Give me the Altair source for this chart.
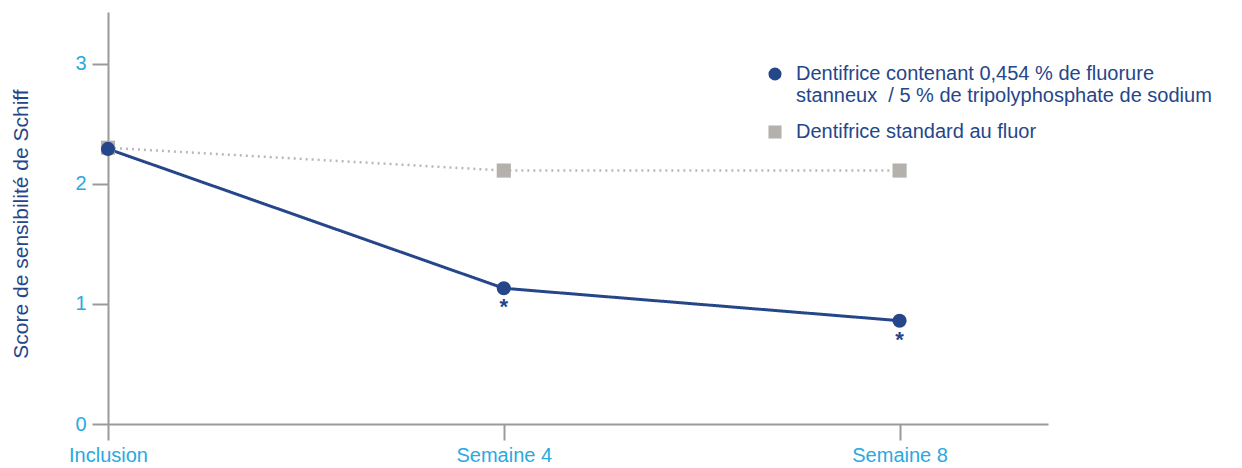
import altair as alt
import pandas as pd

# ---- data ----
timepoints = [0, 4, 8]
timepoint_labels = ["Inclusion", "Semaine 4", "Semaine 8"]
series_names = [
    "Dentifrice contenant 0,454 % de fluorure|stanneux \u00a0/ 5 % de tripolyphosphate de sodium",
    "Dentifrice standard au fluor",
]
series_keys = ["SnF2", "standard"]
values_sn = [2.29, 1.13, 0.86]
values_std = [2.30, 2.11, 2.11]
significant_sn = ["", "*", "*"]

BLUE = "#26468a"
GREY = "#b4b1ac"
DOTGREY = "#b8b8b8"
LIGHTBLUE = "#2aa9e0"
AXIS = "#9a9a9a"
FONT = "Liberation Sans"

rows = []
for t, lab, v, s in zip(timepoints, timepoint_labels, values_sn, significant_sn):
    rows.append({"semaine": t, "temps": lab, "serie": series_names[0], "cle": series_keys[0], "score": v, "sig": s})
for t, lab, v in zip(timepoints, timepoint_labels, values_std):
    rows.append({"semaine": t, "temps": lab, "serie": series_names[1], "cle": series_keys[1], "score": v, "sig": ""})
df = pd.DataFrame(rows)

label_expr = " : ".join(
    f"datum.value == {t} ? '{l}'" for t, l in zip(timepoints, timepoint_labels)
) + " : ''"

x = alt.X(
    "semaine:Q",
    scale=alt.Scale(domain=[0, 9.5], nice=False, zero=False),
    axis=alt.Axis(values=timepoints, labelExpr=label_expr, title=None,
                  grid=False, tickSize=16, tickColor=AXIS, tickWidth=2,
                  domainColor=AXIS, domainWidth=2, labelColor=LIGHTBLUE,
                  labelFontSize=20, labelFont=FONT, labelPadding=5,
                  labelFlush=False),
)
y = alt.Y(
    "score:Q",
    scale=alt.Scale(domain=[0, 3.43], nice=False),
    axis=alt.Axis(values=[0, 1, 2, 3], title="Score de sensibilité de Schiff",
                  grid=False, tickSize=16, tickColor=AXIS, tickWidth=2,
                  domainColor=AXIS, domainWidth=2, labelColor=LIGHTBLUE,
                  labelFontSize=20, labelFont=FONT, labelPadding=6,
                  titleColor=BLUE, titleFont=FONT, titleFontSize=21,
                  titleFontWeight="normal", titlePadding=43, titleY=211.5),
)

legend = alt.Legend(
    title=None, orient="none", legendX=657, legendY=52,
    labelExpr="split(datum.label, '|')",
    labelFont=FONT, labelFontSize=20, labelColor=BLUE, labelLimit=700,
    symbolSize=170, symbolOpacity=1, symbolStrokeWidth=0,
    rowPadding=16, labelOffset=11,
)

lines = alt.Chart(df).mark_line().encode(
    x=x, y=y,
    stroke=alt.Stroke("cle:N", scale=alt.Scale(domain=series_keys, range=[BLUE, DOTGREY]), legend=None),
    strokeDash=alt.StrokeDash("cle:N", scale=alt.Scale(domain=series_keys, range=[[1, 0], [2, 4]]), legend=None),
    strokeWidth=alt.StrokeWidth("cle:N", scale=alt.Scale(domain=series_keys, range=[3, 2.5]), legend=None),
)

points = alt.Chart(df).mark_point(filled=True, opacity=1, size=200).encode(
    x=x, y=y,
    color=alt.Color("serie:N", scale=alt.Scale(domain=series_names, range=[BLUE, GREY]), legend=legend),
    shape=alt.Shape("serie:N", scale=alt.Scale(domain=series_names, range=["circle", "square"]), legend=legend),
    order=alt.Order("serie:N", sort="descending"),
)

stars = alt.Chart(df).mark_text(dy=19, fontSize=22, font=FONT, fontWeight="bold", color=BLUE).encode(
    x=x, y=y, text="sig:N"
)

chart = alt.layer(lines, points, stars).properties(
    width=940, height=412,
    autosize=alt.AutoSizeParams(type="none"),
    padding={"left": 108, "top": 12, "right": 194, "bottom": 44},
    background="white",
).configure_view(strokeWidth=0)

chart.save("out.html", embed_options={"renderer": "svg", "actions": False})
